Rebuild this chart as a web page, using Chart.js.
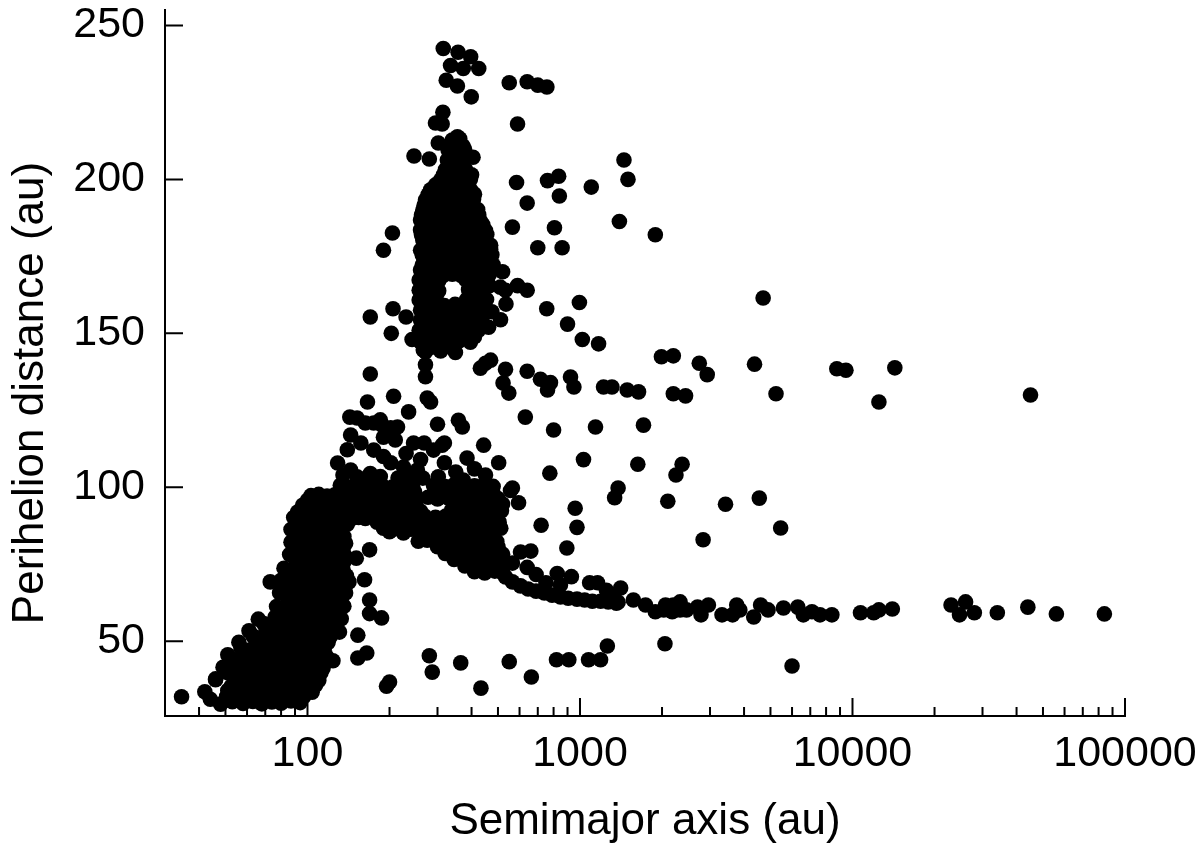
<!DOCTYPE html>
<html><head><meta charset="utf-8">
<script src="https://cdn.jsdelivr.net/npm/chart.js@4/dist/chart.umd.min.js"></script>
<style>html,body{margin:0;padding:0;background:#fff}</style>
</head><body>
<canvas id="c" width="1200" height="858"></canvas>
<script>
// ---------- tick values ----------
const xMajorTicks = [100, 1000, 10000, 100000];
const xMinorTicks = [40,50,60,70,80,90,200,300,400,500,600,700,800,900,2000,3000,4000,5000,6000,7000,8000,9000,20000,30000,40000,50000,60000,70000,80000,90000];
const yTicks = [50, 100, 150, 200, 250];

// ---------- data: [semimajor axis (au), perihelion distance (au)] ----------
const lowCluster = [
[48,29.6],[53,30.4],[58,29.8],[63,30.5],[68,29.7],[74,30.3],[80,29.9],[87,30.6],[94,30.1],
[50.5,32.1],[55.5,31.6],[60.5,32],[65.5,31.7],[71,32.2],[77,31.8],[83.5,32],[90.5,31.6],[97,32.1],
[42,33.6],[51,34],[56,33.3],[61,33.8],[66,33],[72,34.1],[78,33.4],[85,33.9],[92,33.2],[99,34],[104,33.5],
[52.5,35.4],[57.5,35.8],[62.5,35.5],[67.5,35.9],[73.5,35.3],[80,35.7],[87,35.4],[94,35.8],[101,35.5],[107,35.7],
[46,37.8],[54,37.6],[59,38],[64,37.3],[70,37.9],[76,37.1],[83,37.7],[90,38.1],[97,37.4],[104,37.8],[110,37.3],
[51,39.8],[56,39.3],[61,39.7],[66,39.4],[71,39.9],[77,39.5],[84,39.8],[91,39.3],[98,39.6],[105,39.4],[112,39.8],
[49,41.6],[57,41.2],[62,41.9],[67,41.4],[73,41.7],[79,41.1],[86,41.8],[93,41.3],[100,41.9],[107,41.5],[114,41.2],
[54,43.8],[59,43.3],[64,43.7],[69,43.4],[75,43.9],[81,43.5],[88,43.8],[95,43.3],[102,43.6],[109,43.4],[115,43.7],
[51,45.6],[60,45.8],[65,45.3],[71,45.7],[77,45.2],[84,45.9],[91,45.4],[98,45.8],[105,45.2],[112,45.6],[117,45.3],
[57,47.8],[62,47.3],[68,47.7],[74,47.4],[80,47.9],[87,47.5],[94,47.8],[101,47.3],[108,47.6],[115,47.4],
[56,49.7],[65,49.9],[71,49.3],[77,49.8],[84,49.1],[91,49.7],[98,49.4],[105,49.9],[112,49.2],[119,49.6],
[63,51.8],[68,51.3],[74,51.7],[80,51.4],[87,51.9],[94,51.5],[101,51.8],[108,51.3],[115,51.6],[121,51.4],
[61,53.4],[72,53.2],[78,53.8],[85,53.3],[92,53.7],[99,53.1],[106,53.8],[113,53.4],[120,53.6],
[69,55.8],[75,55.3],[81,55.7],[88,55.4],[95,55.9],[102,55.5],[109,55.8],[116,55.3],[123,55.6],
[66,57.2],[76,57.8],[83,57.3],[90,57.9],[97,57.4],[104,57.7],[111,57.2],[118,57.8],[126,57.5],[133,57.3],
[80,59.8],[87,59.3],[94,59.7],[101,59.4],[108,59.9],[115,59.5],[122,59.8],[130,59.3],
[77,61.3],[84,61.8],[91,61.2],[98,61.7],[105,61.4],[112,61.9],[120,61.3],[128,61.6],[136,61.4],
[87,63.8],[94,63.3],[101,63.7],[109,63.4],[117,63.9],[125,63.5],[133,63.8],
[79,65.8],[86,65.3],[93,65.7],[100,65.2],[107,65.8],[115,65.4],[123,65.6],[131,65.3],[138,65.7],
[83,67.8],[90,67.3],[97,67.7],[105,67.4],[113,67.9],[121,67.5],[129,67.8],[137,67.3],
[73,69.3],[80,69.8],[87,69.4],[94,69.9],[101,69.3],[109,69.7],[117,69.2],[125,69.8],[133,69.5],[142,69.3],
[85,71.8],[92,71.3],[99,71.7],[107,71.4],[115,71.9],[123,71.5],[131,71.8],[139,71.3],
[82,73.7],[89,73.2],[96,73.8],[103,73.4],[111,73.9],[119,73.3],[127,73.6],[135,73.4],
[91,75.8],[98,75.3],[106,75.7],[114,75.4],[122,75.9],[130,75.5],[136,75.8],
[86,78.2],[93,77.7],[100,78.3],[108,77.8],[116,78.1],[124,77.6],[132,78.2],[137,77.9],
[89,80],[97,80.3],[105,79.8],[113,80.2],[121,79.9],[129,80.3],[135,80],
[87,82.2],[94,81.8],[101,82.3],[109,81.7],[117,82.1],[125,81.9],[133,82.3],[138,81.8],
[90,84],[98,84.3],[105,83.8],[113,84.2],[121,83.9],[129,84.3],[136,84],
[87,86.3],[94,85.8],[101,86.2],[109,85.7],[117,86.4],[125,85.9],[133,86.1],
[91,88],[99,88.3],[107,87.8],[115,88.2],[123,87.9],[131,88.3],[140,88],
[89,90.2],[96,89.8],[104,90.3],[112,89.7],[120,90.1],[128,89.9],[136,90.3],[145,89.8],[154,90.2],[163,89.9],
[92,92],[100,92.3],[108,91.8],[116,92.2],[124,91.9],[132,92.3],[140,92],[149,92.3],[158,91.8],[167,92.2],
[96,94.2],[103,93.8],[111,94.3],[119,93.7],[127,94.1],[135,93.9],[144,94.3],[153,93.8],[162,94.1],[171,93.9],
[100,95.8],[107,96.1],[115,95.7],[123,96],[131,95.8],[140,96.1],[148,95.7],[157,96],[166,95.8],
[103,97.3],[110,97.7],[118,97.2],[126,97.6],[134,97.4],
[34.5,32],[44,31.2],[46,37.5],[169,79.7],[151,77],[162,70],[169,63.4],[169,59],[187,57.6],[131,53],[153,52],[153,44.6],[165,46.2],[200,36.8],[195,35.4],[124,43.7],[70,55]
];

const midBand = [
[132,100.7],[145,100.2],[158,100.8],[172,100.3],[188,100.6],[205,100.1],[223,100.7],[243,100.2],[290,100.6],[318,100.3],[345,100.8],[375,100.2],[410,100.5],[445,100.9],[480,100.3],
[136,98.5],[148,98.8],[162,98.3],[176,98.7],[192,98.4],[209,98.8],[227,98.3],[247,98.6],[292,98.4],[318,98.8],[346,98.3],[376,98.7],[408,98.4],[442,98.8],[478,98.3],
[140,96.7],[152,96.2],[166,96.8],[181,96.3],[197,96.6],[214,96.1],[233,96.7],[254,96.4],[277,96.8],[300,96.2],[327,96.6],[356,96.3],[388,96.8],[422,96.2],[460,96.6],[500,96.4],
[160,94.5],[175,94.8],[190,94.3],[207,94.7],[226,94.4],[246,94.8],[346,94.3],[376,94.7],[410,94.4],[446,94.8],[485,94.3],[520,94.6],
[168,92.6],[183,92.2],[200,92.8],[218,92.3],[238,92.7],[260,92.2],[338,92.6],[368,92.3],[400,92.8],[437,92.2],[476,92.6],[515,92.4],
[175,90.5],[190,90.8],[207,90.3],[226,90.7],[246,90.4],[268,90.8],[295,90.3],[322,90.7],[350,90.4],[380,90.8],[414,90.3],[450,90.7],[490,90.4],
[180,88.7],[196,88.2],[214,88.8],[233,88.3],[254,88.6],[277,88.1],[302,88.7],[330,88.2],[360,88.8],[392,88.3],[428,88.6],[466,88.2],[505,88.7],
[190,86.7],[205,86.3],[220,86.8],[240,86.4],[262,86.7],[286,86.3],[312,86.8],[340,86.4],[370,86.7],[403,86.3],[440,86.8],[478,86.4],[512,86.7],
[200,85.6],[225,85.2],[262,84.8],[286,84.3],[312,84.7],[340,84.2],[370,84.8],[403,84.3],[440,84.6],[478,84.2],
[255,82.5],[275,82.8],[298,82.3],[325,82.7],[353,82.4],[385,82.8],[420,82.3],[458,82.7],[495,82.4],
[300,80.7],[328,80.2],[357,80.8],[390,80.3],[425,80.6],[462,80.2],[500,80.7],
[320,78.5],[348,78.8],[380,78.3],[415,78.7],[452,78.4],[490,78.8],[520,78.3],
[345,76.6],[376,76.2],[410,76.8],[447,76.3],[487,76.6],[525,76.2],
[378,74.5],[412,74.8],[448,74.3],[488,74.7],[525,74.4],
[410,72.6],[447,72.2],[487,72.8],[520,72.3]
];

const midBandScatter = [
[143,122.8],[152,122.5],[163,120.9],[175,120.9],[188,120.2],[202,119.3],[214,119.6],[190,116.3],[144,117],[140,112.2],[157,114.4],[175,112.1],
[129,107.9],[144,105.6],[152,103.4],[160,101.4],[202,108],[225,106.6],[253,105.6],[245,114.4],[268,114.4],[290,112.1],[318,108],[302,103.4],
[318,114.4],[385,109.5],[443,113.7],[503,108],[450,104],[431,99],[556,99],[373,102.4],[185,121.9],[204,118.6],[210,115.4],[312,113.7],
[235,124.5],[207,129.6],[275,129],[283,127.7],[300,120.5],[358,121.8],[370,119.6],
[135,104],[170,104.5],[185,103.5],[215,103],[240,103.8],[265,103],[190,110],[230,111],[260,109],[350,105],[410,106]
];

const peakColumn = [
[340,212.8],[362,213.2],
[334,211],[356,211.3],[372,210.8],
[328,209.6],[352,209.2],[377,209.8],
[326,206.3],[350,206.7],[377,206.1],
[335,204.6],[363,204.9],
[321,203.2],[349,202.8],[380,203.3],
[315,201.4],[342,201.7],[372,201.2],[400,201.5],
[308,199.8],[335,200.2],[364,199.6],[396,200],
[295,198.2],[321,198.5],[349,198],[380,198.4],
[283,196.6],[308,196.2],[335,196.8],[364,196.4],[396,196.7],
[277,195],[300,195.3],[328,194.8],[355,195.2],[387,194.9],[410,195.2],
[271,193.3],[295,193.7],[321,193.1],[349,193.5],[380,193.2],[407,193.6],
[268,191.6],[283,191.9],[308,191.4],[340,191.8],[370,191.5],[403,191.9],
[265,190],[290,190.4],[328,189.8],[355,190.3],[387,189.9],[421,190.2],
[262,188.4],[275,188.7],[300,188.2],[315,188.6],[340,188.3],[370,188.7],[405,188.2],[425,188.5],
[260,186.8],[283,186.4],[328,187],[358,186.6],[390,186.9],[431,186.5],
[270,185.2],[300,185.5],[335,185],[365,185.4],[397,185.1],[440,185.3],
[260,183.6],[283,183.9],[321,183.4],[349,183.8],[380,183.5],[414,183.7],[450,183.4],
[262,182],[278,182.3],[302,181.8],[328,182.2],[355,181.9],[387,182.3],[421,181.8],[455,182.1],
[265,180.3],[290,180.6],[314,180.1],[340,180.5],[370,180.2],[403,180.6],[438,180.3],
[270,178.6],[296,178.9],[321,178.4],[349,178.8],[380,178.5],[414,178.9],[450,178.4],
[260,177],[283,177.3],[308,176.8],[335,177.2],[364,176.9],[396,177.3],[431,177],[470,177.2],
[264,175.4],[287,175.7],[313,175.2],[340,175.6],[368,175.3],[400,175.7],[436,175.2],[475,175.5],
[268,173.8],[292,174.1],[318,173.6],[344,174],[373,173.7],[407,174.1],[442,173.8],
[264,172.2],[287,172.5],[313,172],[340,172.4],[368,172.1],[400,172.5],[436,172],[480,172.3],
[260,170.6],[283,170.9],[308,170.4],[335,170.8],[364,170.5],[396,170.9],[431,170.6],[470,170.8],
[268,169],[292,169.3],[315,168.8],[340,169.2],[365,168.9],[396,169.3],[431,168.8],[465,169.1],
[257,167.3],[280,167.6],[303,167.1],[380,167.5],[414,167.2],[450,167.6],
[268,165.6],[292,165.9],[395,165.4],[435,165.8],[465,165.5],
[257,164],[280,164.3],[303,163.8],[390,164.2],[424,163.9],
[268,162.4],[292,162.7],[400,162.2],[437,162.6],
[257,160.8],[280,161.1],[298,160.6],[384,161],[417,160.7],[454,161],
[268,159.2],[292,159.5],[318,159],[348,159.4],[375,159.1],[405,159.5],[440,159],
[260,157.5],[283,157.8],[308,157.3],[335,157.7],[364,157.4],[396,157.8],[431,157.5],
[268,155.9],[292,156.2],[318,155.7],[348,156.1],[375,155.8],[405,156.2],[440,155.7],
[260,154.3],[283,154.6],[308,154.1],[335,154.5],[364,154.2],[396,154.6],[431,154.3],
[268,152.6],[292,152.9],[318,152.4],[345,152.8],[372,152.5],[405,152.9],[440,152.4],
[257,151],[280,151.3],[303,150.8],[328,151.2],[358,150.9],[390,151.3],[424,151],
[272,149],[304,149.3],[340,148.8],[375,149.2],[410,148.9],
[260,147.2],[290,147.5],[321,147],[358,147.4],[396,147.1],
[285,145.5],[325,145.8],
[271,144],[308,144.3],[349,143.8],
[271,139.8],[271,135.9],[266,144.6]
];

const upperScatter = [
[315,242.5],[357,241.3],[397,239.8],[425,236],[335,237],[373,236],[323,232.2],[355,230.3],[399,226.8],
[550,231.4],[640,231.7],[700,230.6],[756,230],[314,221.8],[295,218.3],[312,218],[590,218],[355,213.8],[302,211.8],
[246,207.6],[280,206.6],[405,207.2],[585,199],[760,199.6],[835,201],[840,194.6],[640,192.3],[1100,197.5],
[565,184.5],[806,184.3],[700,177.8],[860,177.8],[205,182.6],[190,177],[470,178.6],
[1450,206.3],[1500,200],[1395,186.3],[1890,182],[4700,161.5],
[520,170],[590,165.5],[640,164],[533,164],[510,165],[535,159.5],[475,157],[511,154.4],[462,152],
[755,158],[995,160],[900,153],[1020,148],[1170,146.6],
[170,155.3],[206,158],[230,155.3],[203,150],[242,148],[170,136.8],[166,127.7]
];

const branch140 = [
[450,140.3],[470,141.3],[431,138.7],[533,138.3],[640,137.7],[716,135.1],[779,134],[923,135.8],[950,132.6],
[548,130.6],[522,133.9],[760,131.6],[1220,132.6],[1310,132.6],[1490,131.6],[1640,131],
[1990,142.4],[2200,142.7],[2740,140.3],[2930,136.6],[2200,130.4],[2440,129.7],[4370,140],[5240,130.4],
[8760,138.5],[9460,138],[14300,138.8],[12500,127.7],[45000,130]
];

const midScatter = [
[630,122.8],[800,118.6],[1140,119.6],[1710,120.2],[1030,109],[1630,107.5],[775,104.6],[1380,99.8],[1340,96.6],
[2100,95.5],[2250,104],[2370,107.5],[960,93.2],[975,87],[720,87.7],[895,80.3],[605,79],[660,79.3],[565,99.8],[595,95],
[3420,94.5],[4550,96.5],[5450,86.8],[2830,83],[565,75.4],[640,74],[825,72],[930,71],[690,71.7],[1410,67.3],[1085,69]
];

const tail60 = [
[533,70.9],[565,69.3],[605,68],[645,67],[690,66.3],[740,65.7],[790,65],[848,64.4],[905,64],[975,63.7],[1040,63.4],
[1110,63],[1190,63],[1270,62.8],[1360,62.4],[750,69],[848,68.3],[1160,69],[1250,66.6],[1330,64.4],[1380,62.7],
[1570,63.4],[1740,61.8],[1890,59.6],[2060,61.8],[2180,59.6],[2330,60.2],
[2030,60.2],[2200,61.8],[2330,62.8],[2460,60.2],[2700,61.1],[2780,58.6],[2960,61.8],[3320,58.6],[3630,58.6],[3760,61.8],[3860,60.2],
[4340,57.9],[4600,61.8],[4900,60.2],[5580,60.8],[6300,61.1],[6600,58.6],[7100,59.6],[7600,58.6],[8400,58.6],
[10700,59.3],[11960,59.3],[12500,60.2],[14000,60.5],
[23000,61.8],[26000,62.8],[24700,58.6],[28000,59.3],[34000,59.3],[44000,61.1],[56000,58.9],[84000,58.9]
];

const lowScatter = [
[280,45.3],[287,40],[365,43],[433,34.8],[550,43.4],[663,38.4],[820,44],[910,44],[1075,44],[1190,44],[1260,48.5],[2050,49.2],[6000,42]
];

const allPoints = [].concat(lowCluster, midBand, midBandScatter, peakColumn, upperScatter, branch140, midScatter, tail60, lowScatter)
  .map(([a, q]) => ({x: a, y: q}));

const FONT = '"Liberation Sans", Arial, Helvetica, sans-serif';

const tickMarks = {
  id: 'tickMarks',
  beforeDatasetsDraw(chart) {
    const {ctx, chartArea} = chart;
    const xs = chart.scales.x, ys = chart.scales.y;
    ctx.save();
    ctx.strokeStyle = '#000';
    ctx.lineWidth = 2;
    ctx.beginPath();
    xMajorTicks.forEach(v => { const p = xs.getPixelForValue(v); ctx.moveTo(p, chartArea.bottom); ctx.lineTo(p, chartArea.bottom - 18); });
    xMinorTicks.forEach(v => { const p = xs.getPixelForValue(v); ctx.moveTo(p, chartArea.bottom); ctx.lineTo(p, chartArea.bottom - 9); });
    yTicks.forEach(v => { const p = ys.getPixelForValue(v); ctx.moveTo(chartArea.left, p); ctx.lineTo(chartArea.left + 18, p); });
    ctx.stroke();
    ctx.restore();
  }
};

const yTitle = {
  id: 'yTitle',
  afterDraw(chart) {
    const {ctx} = chart;
    ctx.save();
    ctx.translate(43, 393);
    ctx.rotate(-Math.PI / 2);
    ctx.font = '44px ' + FONT;
    ctx.fillStyle = '#000';
    ctx.textAlign = 'center';
    ctx.textBaseline = 'alphabetic';
    ctx.fillText('Perihelion distance (au)', 0, 0);
    ctx.restore();
  }
};

new Chart(document.getElementById('c'), {
  type: 'scatter',
  data: { datasets: [{ data: allPoints, backgroundColor: '#000', borderWidth: 0, pointRadius: 7.8, pointHoverRadius: 7.8 }] },
  options: {
    responsive: false,
    animation: false,
    events: [],
    layout: { padding: { top: 10, right: 75, left: 0, bottom: 0 } },
    plugins: { legend: { display: false }, tooltip: { enabled: false } },
    scales: {
      x: {
        type: 'logarithmic', position: 'bottom', min: 30, max: 100000, bounds: 'data',
        afterBuildTicks: s => { s.ticks = xMajorTicks.map(v => ({ value: v, major: true })); },
        afterFit: s => { s.height = 142; s.paddingLeft = 0; s.paddingRight = 0; },
        grid: { display: false, drawTicks: false },
        border: { display: true, color: '#000', width: 2 },
        ticks: { autoSkip: false, maxRotation: 0, minRotation: 0, color: '#000', font: { family: FONT, size: 43 }, padding: 12, callback: v => String(v) },
        title: { display: true, text: 'Semimajor axis (au)', color: '#000', font: { family: FONT, size: 44 }, padding: { top: 0, bottom: 10 } }
      },
      y: {
        type: 'linear', position: 'left', min: 25.75, max: 255, bounds: 'data',
        afterBuildTicks: s => { s.ticks = yTicks.map(v => ({ value: v })); },
        afterFit: s => { s.width = 165; s.paddingTop = 0; s.paddingBottom = 0; },
        grid: { display: false, drawTicks: false },
        border: { display: true, color: '#000', width: 2 },
        ticks: { color: '#000', font: { family: FONT, size: 43 }, padding: 20, callback: v => String(v) },
        title: { display: false }
      }
    }
  },
  plugins: [tickMarks, yTitle]
});
</script>
</body></html>
